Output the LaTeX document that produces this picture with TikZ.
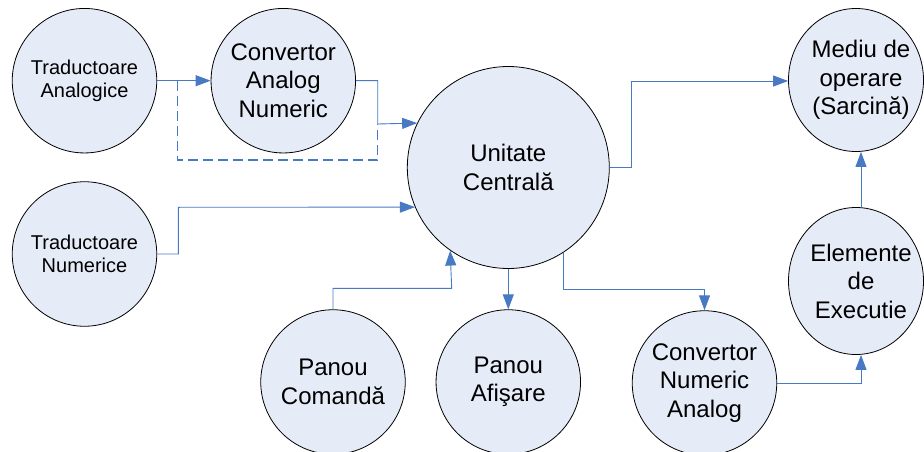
\documentclass[tikz,border=0pt]{standalone}
\usepackage{fontspec}
\setmainfont{Liberation Sans}
\usetikzlibrary{arrows.meta,shapes.geometric}
\definecolor{shapefill}{RGB}{230,236,247}
\definecolor{linkblue}{RGB}{72,122,196}
\begin{document}
\begin{tikzpicture}[x=1pt,y=-1pt,
  unit/.style={circle,draw=black,line width=0.8pt,fill=shapefill,inner sep=0pt,
               minimum size=144.5pt,align=center},
  oval/.style={ellipse,draw=black,line width=0.8pt,fill=shapefill,inner sep=0pt,
               minimum width=135pt,minimum height=143pt},
  bigtxt/.style={font=\fontsize{24}{28.5}\selectfont},
  smalltxt/.style={font=\fontsize{20}{23.3}\selectfont},
  link/.style={draw=linkblue,line width=0.9pt},
  arr/.style={link,-{Triangle[length=15pt,width=11pt]}},
  dashlink/.style={draw=linkblue,line width=1.1pt,dash pattern=on 10pt off 5pt}]

\useasboundingbox (0,0) rectangle (924,452);

% blocks
\node[unit,smalltxt] (TA)  at (84.5,80.7)  {Traductoare\\Analogice};
\node[unit,bigtxt]   (CAN) at (283.3,80.7) {Convertor\\Analog\\Numeric};
\node[unit,smalltxt] (TN)  at (84.5,254)   {Traductoare\\Numerice};
\node[unit,bigtxt,minimum size=202pt] (UC) at (508.3,167.5) {Unitate\\Centrală};
\node[unit,bigtxt]   (PC)  at (333,382)    {Panou\\Comandă};
\node[unit,bigtxt]   (PA)  at (508.3,382)  {Panou\\Afişare};
\node[unit,bigtxt]   (CNA) at (704.5,383)  {Convertor\\Numeric\\Analog};
\node[oval] (M) at (856,80) {};
\node[bigtxt,align=center] (Mtxt) at ([xshift=5pt]M.center) {Mediu de\\operare\\(Sarcină)};
\node[oval,minimum height=147pt] (E) at (856,281) {};
\node[bigtxt,align=center] (Etxt) at ([xshift=5pt]E.center) {Elemente\\de\\Executie};

% routing points
\coordinate (split)   at (177.3,80.7);
\coordinate (dashlow) at (377.7,160);
\coordinate (join)    at (377.7,124);
\coordinate (tnbend)  at (178.3,207.3);
\coordinate (ucm)     at (631.3,81);
\coordinate (pcb)     at (451.7,288.3);
\coordinate (cnab)    at (704.5,289.3);
\coordinate (enx)     at (861,383);

% connections
\draw[arr] (TA.east) -- (CAN.west);
\draw[dashlink] (split) |- (dashlow) -- (join);
\draw[arr] (CAN.east) -| (join) -- (UC.154.5);
\draw[arr] (TN.east) -| (tnbend) -- (UC.203.2);
\draw[arr] (UC.east) -| (ucm) -- (ucm -| M.west);
\draw[arr] (PC.north) |- (pcb) -- (UC.235.9);
\draw[arr] (UC.south) -- (PA.north);
\draw[arr] (UC.303.7) |- (cnab) -- (CNA.north);
\draw[arr] (CNA.east) -| (enx |- E.south);
\draw[arr] (enx |- E.north) -- (enx |- M.south);
\end{tikzpicture}
\end{document}
